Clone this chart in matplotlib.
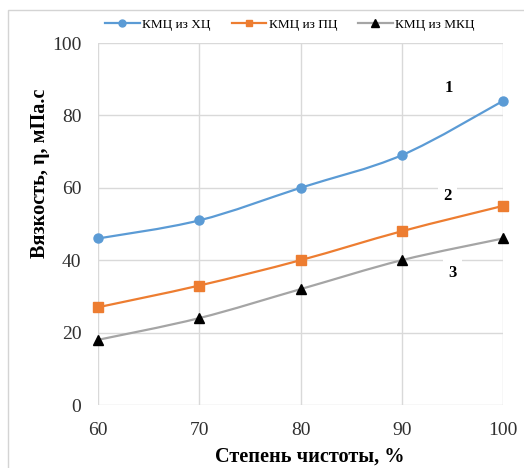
import matplotlib
matplotlib.use("Agg")
import matplotlib.pyplot as plt
from matplotlib.path import Path
from matplotlib.patches import PathPatch, Rectangle
from matplotlib.lines import Line2D
import numpy as np

purity = [60, 70, 80, 90, 100]
visc_hc = [46, 51, 60, 69, 84]
visc_pc = [27, 33, 40, 48, 55]
visc_mcc = [18, 24, 32, 40, 46]

series_names = ["КМЦ из ХЦ", "КМЦ из ПЦ", "КМЦ из МКЦ"]
curve_labels = ["1", "2", "3"]
curve_label_pos = [(94.6, 87.6), (94.5, 57.7), (95.0, 36.5)]

x_ticks = [60, 70, 80, 90, 100]
y_ticks = [0, 20, 40, 60, 80, 100]

plt.rcParams["font.family"] = ["Liberation Serif", "DejaVu Serif"]

fig = plt.figure(figsize=(5.24, 4.68), dpi=100)
ax = fig.add_axes([98 / 524, 1 - 405 / 468, 405 / 524, 362 / 468])

# thin frame around the chart area
fig.patches.append(Rectangle((8 / 524, -0.1), 1.2, 1 - 10 / 468 + 0.1,
                             transform=fig.transFigure, fill=False,
                             edgecolor="#d4d4d4", lw=1.0))


def smooth_path(xs, ys):
    """Cubic Bezier path through the points (Catmull-Rom style smoothing)."""
    pts = np.column_stack([xs, ys]).astype(float)
    n = len(pts)
    verts = [pts[0]]
    codes = [Path.MOVETO]
    for i in range(n - 1):
        p0 = pts[i - 1] if i > 0 else pts[i]
        p1 = pts[i]
        p2 = pts[i + 1]
        p3 = pts[i + 2] if i + 2 < n else pts[i + 1]
        c1 = p1 + (p2 - p0) / 6.0
        c2 = p2 - (p3 - p1) / 6.0
        verts += [c1, c2, p2]
        codes += [Path.CURVE4] * 3
    return Path(verts, codes)


styles = [
    dict(color="#5B9BD5", marker="o", mfc="#5B9BD5", mec="#5B9BD5", ms=6.5),
    dict(color="#ED7D31", marker="s", mfc="#ED7D31", mec="#ED7D31", ms=6.5),
    dict(color="#A5A5A5", marker="^", mfc="black", mec="black", ms=7.5),
]

handles = []
for ys, st, name in zip([visc_hc, visc_pc, visc_mcc], styles, series_names):
    patch = PathPatch(smooth_path(purity, ys), facecolor="none",
                      edgecolor=st["color"], lw=1.6, zorder=3, clip_on=False)
    ax.add_patch(patch)
    ax.plot(purity, ys, linestyle="none", marker=st["marker"], ms=st["ms"],
            mfc=st["mfc"], mec=st["mec"], zorder=4, clip_on=False)
    handles.append(Line2D([], [], color=st["color"], lw=1.6,
                          marker=st["marker"], ms=st["ms"] - 1.5,
                          mfc=st["mfc"], mec=st["mec"], label=name))

for txt, (lx, ly) in zip(curve_labels, curve_label_pos):
    ax.text(lx, ly, txt, fontsize=12, fontweight="bold", ha="center",
            va="center", zorder=5,
            bbox=dict(facecolor="white", edgecolor="none", pad=4))

ax.set_xlim(60, 100)
ax.set_ylim(0, 100)
ax.set_xticks(x_ticks)
ax.set_yticks(y_ticks)
ax.tick_params(axis="both", length=0, labelsize=14, colors="#303030")
ax.tick_params(axis="x", pad=12)
ax.tick_params(axis="y", pad=12)
ax.grid(True, color="#d9d9d9", lw=1.0)
ax.set_axisbelow(True)
for sp in ax.spines.values():
    sp.set_visible(False)

ax.set_xlabel("Степень чистоты, %", fontsize=14.6, fontweight="bold")
ax.set_ylabel("Вязкость, η, мПа.с", fontsize=14.6, fontweight="bold")
ax.xaxis.set_label_coords((310 - 98) / 405, (405 - 457) / 362)
ax.yaxis.set_label_coords((40 - 98) / 405, (405 - 173) / 362)
ax.xaxis.label.set_va("center")
ax.yaxis.label.set_va("center")

fig.legend(handles=handles, loc="center", bbox_to_anchor=(290 / 524, 1 - 25 / 468),
           ncol=3, frameon=False, fontsize=9.5, handlelength=2.6,
           columnspacing=1.6, handletextpad=0.2)

fig.savefig("out.png", dpi=100)
